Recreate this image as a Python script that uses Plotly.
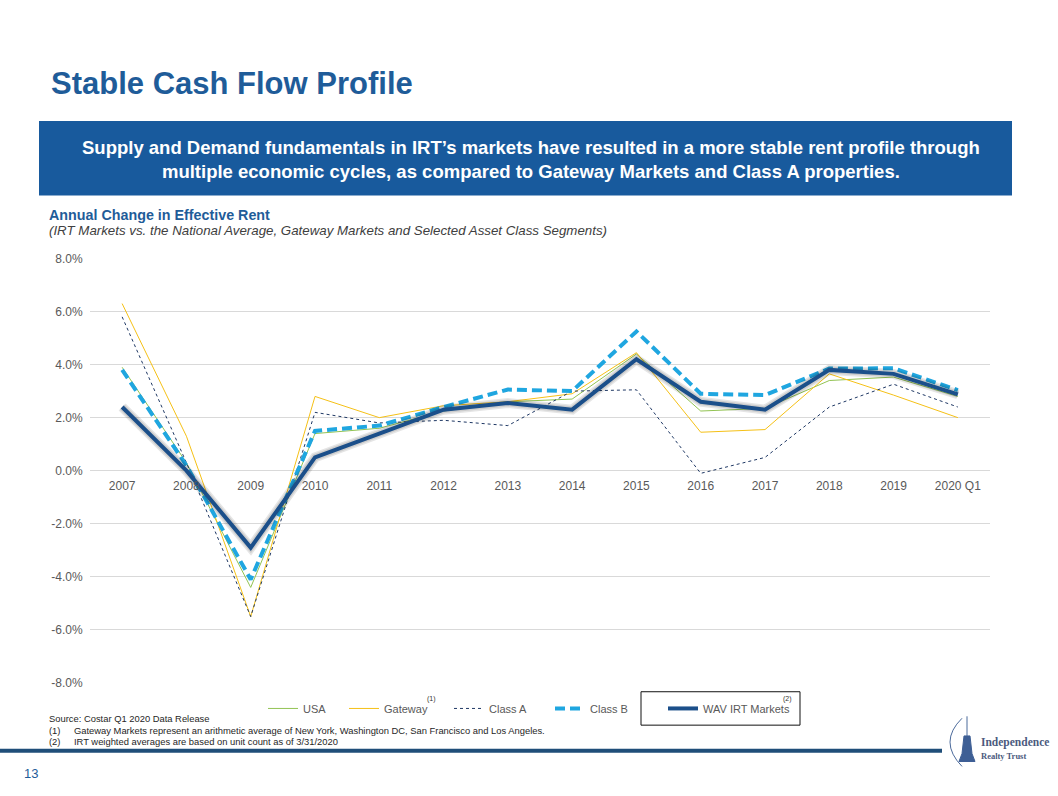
import plotly.graph_objects as go

W, H = 1058, 796

categories = ["2007", "2008", "2009", "2010", "2011", "2012", "2013", "2014",
              "2015", "2016", "2017", "2018", "2019", "2020 Q1"]
usa = [3.9, 0.3, -4.4, 1.4, 1.6, 2.25, 2.6, 2.7, 4.4, 2.25, 2.35, 3.4, 3.53, 2.8]
gateway = [6.3, 1.3, -5.5, 2.8, 2.0, 2.45, 2.6, 2.9, 4.45, 1.45, 1.55, 3.65, 2.85, 2.0]
class_a = [5.8, 0.3, -5.5, 2.2, 1.8, 1.9, 1.7, 3.0, 3.05, -0.1, 0.5, 2.4, 3.26, 2.4]
class_b = [3.8, 0.2, -4.1, 1.5, 1.7, 2.4, 3.06, 3.0, 5.25, 2.9, 2.85, 3.85, 3.86, 3.04]
wav_irt = [2.4, 0.0, -2.9, 0.5, 1.4, 2.3, 2.55, 2.3, 4.2, 2.6, 2.3, 3.8, 3.65, 2.88]
y_ticks = [-8, -6, -4, -2, 0, 2, 4, 6, 8]
y_tick_labels = ["-8.0%", "-6.0%", "-4.0%", "-2.0%", "0.0%", "2.0%", "4.0%", "6.0%", "8.0%"]


def px(x):
    return x / W


def py(y):
    return 1 - y / H


BLUE = "#1F5C99"
TXT = "#595959"

fig = go.Figure()
fig.add_trace(go.Scatter(x=categories, y=usa, name="USA", mode="lines", legend="legend",
                         line=dict(color="#92C353", width=1)))
fig.add_trace(go.Scatter(x=categories, y=gateway, name="Gateway", mode="lines", legend="legend2",
                         line=dict(color="#F5C016", width=1)))
fig.add_trace(go.Scatter(x=categories, y=class_a, name="Class A", mode="lines", legend="legend3",
                         line=dict(color="#1F3864", width=1, dash="3px,3px")))
fig.add_trace(go.Scatter(x=categories, y=class_b, name="Class B", mode="lines", legend="legend4",
                         line=dict(color="#1FA6E0", width=4, dash="10px,5px")))
# soft shadow under the WAV line
fig.add_trace(go.Scatter(x=categories, y=wav_irt, mode="lines", showlegend=False,
                         hoverinfo="skip",
                         line=dict(color="rgba(0,0,0,0.10)", width=10)))
fig.add_trace(go.Scatter(x=categories, y=wav_irt, mode="lines", showlegend=False,
                         hoverinfo="skip",
                         line=dict(color="rgba(0,0,0,0.10)", width=7)))
fig.add_trace(go.Scatter(x=categories, y=wav_irt, name="WAV IRT Markets", mode="lines",
                         legend="legend5",
                         line=dict(color="#1B4F8A", width=4)))


def leg(x_text):
    return dict(orientation="h", x=px(x_text - 40), xanchor="left", y=py(714), yanchor="middle",
                font=dict(size=11, color=TXT), bgcolor="rgba(0,0,0,0)")


ydom = [py(688), py(256)]
fig.update_layout(
    width=W, height=H,
    margin=dict(l=0, r=0, t=0, b=0),
    paper_bgcolor="white", plot_bgcolor="white",
    font=dict(family="Arial, Liberation Sans, sans-serif", color=TXT, size=11),
    showlegend=True,
    legend=leg(303), legend2=leg(384), legend3=leg(489), legend4=leg(590), legend5=leg(703),
    xaxis=dict(domain=[px(90), px(990)], type="category", range=[-0.5, 13.5],
               anchor="free", position=(ydom[0] + ydom[1]) / 2,
               showgrid=False, showline=False, zeroline=False,
               ticks="outside", ticklen=4, tickcolor="rgba(0,0,0,0)",
               tickfont=dict(size=12, color=TXT)),
    yaxis=dict(domain=ydom, range=[-8, 8], tickvals=y_ticks, ticktext=y_tick_labels,
               showgrid=True, gridcolor="#D9D9D9", gridwidth=1,
               zeroline=True, zerolinecolor="#D9D9D9", zerolinewidth=1,
               ticks="outside", ticklen=4, tickcolor="rgba(0,0,0,0)",
               showline=False, tickfont=dict(size=12, color=TXT)),
)

shapes = []
# blue banner
shapes.append(dict(type="rect", xref="paper", yref="paper",
                   x0=px(39), x1=px(1012), y0=py(192), y1=py(116),
                   fillcolor="#185A9D", line=dict(width=0), layer="below"))
# legend highlight box
shapes.append(dict(type="rect", xref="paper", yref="paper",
                   x0=px(641), x1=px(800), y0=py(731), y1=py(697),
                   line=dict(color="#111111", width=1), fillcolor="rgba(0,0,0,0)"))
# footer rule
shapes.append(dict(type="line", xref="paper", yref="paper",
                   x0=0, x1=px(942), y0=py(757), y1=py(757),
                   line=dict(color="#1F4E79", width=4)))
# logo arc
shapes.append(dict(type="path", xref="paper", yref="paper",
                   path="M {},{} Q {},{} {},{}".format(px(962), py(724), px(938), py(748), px(962), py(773)),
                   line=dict(color="#4B6A9B", width=1)))
# logo spire
shapes.append(dict(type="line", xref="paper", yref="paper",
                   x0=px(967), x1=px(967), y0=py(722), y1=py(742),
                   line=dict(color="#4B6A9B", width=1)))
# logo tower
shapes.append(dict(type="path", xref="paper", yref="paper",
                   path="M {},{} L {},{} L {},{} L {},{} L {},{} L {},{} Z".format(
                       px(964), py(742), px(970), py(742), px(972), py(760),
                       px(975), py(768), px(959), py(768), px(962), py(760)),
                   fillcolor="#3E5F95", line=dict(color="#3E5F95", width=1)))
fig.update_layout(shapes=shapes)

ann = []


def text(x, y, s, size, color, bold=False, italic=False, xanchor="left", family=None, align="left"):
    if bold:
        s = "<b>" + s + "</b>"
    if italic:
        s = "<i>" + s + "</i>"
    d = dict(xref="paper", yref="paper", x=px(x), y=py(y), text=s, showarrow=False,
             xanchor=xanchor, yanchor="middle", align=align,
             font=dict(size=size, color=color))
    if family:
        d["font"]["family"] = family
    ann.append(d)


text(49, 78, "Stable Cash Flow Profile", 31, BLUE, bold=True)
text(531, 155, "Supply and Demand fundamentals in IRT’s markets have resulted in a more stable rent profile through<br>multiple economic cycles, as compared to Gateway Markets and Class A properties.",
     18.5, "white", bold=True, xanchor="center", align="center")
text(47, 212, "Annual Change in Effective Rent", 14.3, BLUE, bold=True)
text(47, 228, "(IRT Markets vs. the National Average, Gateway Markets and Selected Asset Class Segments)", 13.3, "#404040", italic=True)
text(431, 704, "(1)", 7, "#333333", xanchor="center")
text(787, 704, "(2)", 7, "#333333", xanchor="center")
text(47, 724, "Source: Costar Q1 2020 Data Release", 9.4, "#262626")
text(47, 736, "(1)", 9.4, "#262626")
text(72, 736, "Gateway Markets represent an arithmetic average of New York, Washington DC, San Francisco and Los Angeles.", 9.4, "#262626")
text(47, 748, "(2)", 9.4, "#262626")
text(72, 748, "IRT weighted averages are based on unit count as of 3/31/2020", 9.4, "#262626")
text(22, 780, "13", 13, BLUE)
text(979, 749, "Independence", 11.5, "#4B5A7E", bold=True, family="Liberation Serif, DejaVu Serif, serif")
text(979, 762, "Realty Trust", 8.5, "#4B5A7E", bold=True, family="Liberation Serif, DejaVu Serif, serif")
fig.update_layout(annotations=ann)

fig.write_html("out.html", config={"displayModeBar": False},
               post_script="document.body.style.margin='0px';document.body.style.overflow='hidden';")
